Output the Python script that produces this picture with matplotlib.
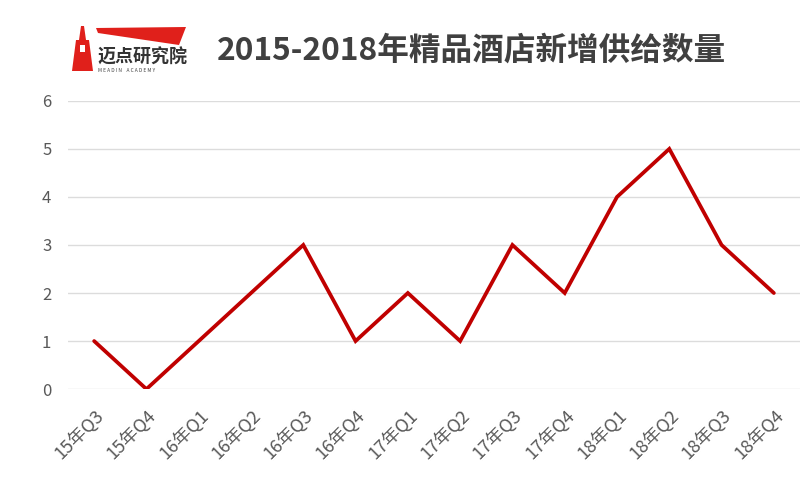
import matplotlib.pyplot as plt
from matplotlib.patches import Polygon

plt.rcParams['font.family'] = ['Noto Sans CJK SC', 'DejaVu Sans']

quarters = ['15年Q3', '15年Q4', '16年Q1', '16年Q2', '16年Q3', '16年Q4', '17年Q1',
            '17年Q2', '17年Q3', '17年Q4', '18年Q1', '18年Q2', '18年Q3', '18年Q4']
supply = [1, 0, 1, 2, 3, 1, 2, 1, 3, 2, 4, 5, 3, 2]
yticks = [0, 1, 2, 3, 4, 5, 6]

fig = plt.figure(figsize=(8, 4.78), dpi=100)
ax = fig.add_axes([0.085, 0.186, 0.915, 0.603])

x = list(range(len(quarters)))
ax.plot(x, supply, color='#C00000', linewidth=2.7, solid_joinstyle='miter',
        solid_capstyle='round', zorder=3)

ax.set_xlim(-0.5, len(quarters) - 0.5)
ax.set_ylim(0, 6)
ax.set_yticks(yticks)
ax.set_xticks(x)
ax.set_xticklabels(quarters, rotation=45, ha='right', va='top', rotation_mode='anchor')
ax.tick_params(axis='y', length=0, labelsize=12, labelcolor='#595959', pad=12)
ax.tick_params(axis='x', length=0, labelsize=13, labelcolor='#595959', pad=12)
for lab in ax.get_xticklabels():
    lab.set_x(lab.get_position()[0])
ax.grid(axis='y', color='#dcdcdc', linewidth=1)
ax.set_axisbelow(True)
for s in ax.spines.values():
    s.set_visible(False)

# title
fig.text(0.589, 0.895, '2015-2018年精品酒店新增供给数量', ha='center', va='center',
         fontsize=22.8, fontweight='bold', color='#404040')

# logo
W, H = 800, 478
def px(pts):
    return [(a / W, 1 - b / H) for a, b in pts]

lighthouse = px([(72, 71), (76, 40), (79, 40), (81, 26), (84, 26), (86, 40), (89, 40), (93, 71)])
fig.patches.append(Polygon(lighthouse, closed=True, transform=fig.transFigure,
                           facecolor='#E0201B', edgecolor='none'))
window = px([(80, 45), (85, 45), (85, 52), (80, 52)])
fig.patches.append(Polygon(window, closed=True, transform=fig.transFigure,
                           facecolor='white', edgecolor='none'))
banner = px([(96, 28), (186, 27), (179, 45), (98, 33)])
fig.patches.append(Polygon(banner, closed=True, transform=fig.transFigure,
                           facecolor='#E0201B', edgecolor='none'))
fig.text(97 / W, 1 - 57 / H, '迈点研究院', ha='left', va='center',
         fontsize=13, fontweight='bold', color='#333333')
fig.text(98 / W, 1 - 70 / H, 'M E A D I N    A C A D E M Y', ha='left', va='center',
         fontsize=3.5, color='#444444')

fig.savefig('out.png', dpi=100, facecolor='white')
